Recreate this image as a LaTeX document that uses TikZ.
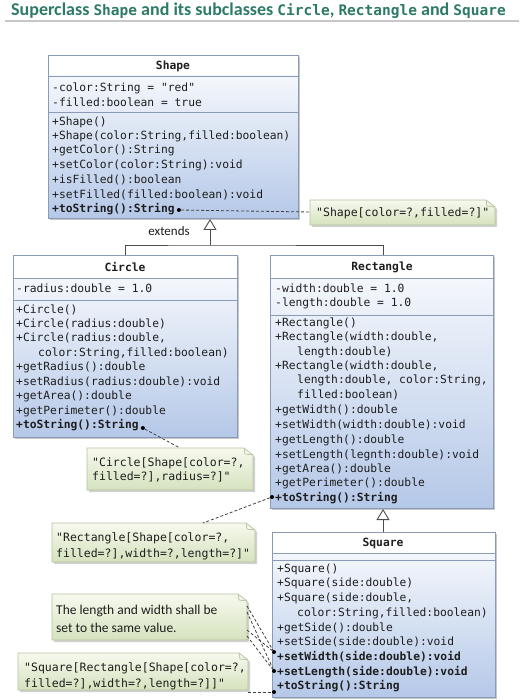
\documentclass[tikz,border=0pt]{standalone}
\usepackage{fontspec}
\setmainfont{Carlito}
\newfontfamily\monof{DejaVu Sans Mono}
\usetikzlibrary{arrows.meta}
\definecolor{titlec}{HTML}{2C7A67}
\definecolor{boxline}{HTML}{8A9BB8}
\definecolor{boxbot}{HTML}{B5C8E8}
\definecolor{boxtop}{HTML}{F4F7FC}
\definecolor{notetop}{HTML}{F7F9EE}
\definecolor{notebot}{HTML}{D5E2BE}
\definecolor{noteline}{HTML}{B3C39C}
\definecolor{txt}{HTML}{1E1E1E}
\tikzset{
 mem/.style={anchor=west, inner sep=0pt, text=txt, font=\monof\fontsize{11.3}{13}\selectfont},
 bmem/.style={mem, font=\monof\bfseries\fontsize{11.3}{13}\selectfont},
 cname/.style={inner sep=0pt, text=txt, font=\monof\bfseries\fontsize{11.3}{13}\selectfont},
 ntext/.style={anchor=west, inner sep=0pt, text=txt, font=\monof\fontsize{11.5}{13}\selectfont},
 stext/.style={anchor=west, inner sep=0pt, text=txt, font=\fontsize{13.5}{15}\selectfont},
 conn/.style={black!75, line width=0.8pt, dash pattern=on 3pt off 2pt},
 dotc/.style={circle, fill=black, inner sep=0pt, minimum size=4pt},
 inh/.style={draw=black!70, line width=0.9pt},
 inharrow/.style={inh, -{Triangle[open, width=13pt, length=11pt]}},
}
\newcommand\tmono[1]{{\monof\fontsize{14.5}{20}\selectfont #1}}
\newcommand\umlbox[6]{%
 \fill[black!22] (#1+2,#2+2) rectangle (#3+2,#4+2);
 \fill[white] (#1,#2) rectangle (#3,#5);
 \shade[top color=boxtop, bottom color=boxbot] (#1,#5) rectangle (#3,#4);
 \draw[boxline, line width=0.8pt] (#1,#2) rectangle (#3,#4);
 \draw[boxline, line width=0.8pt] (#1,#5) -- (#3,#5) (#1,#6) -- (#3,#6);
}
\newcommand\notebox[4]{%
 \fill[black!18] (#1+2,#2+2) -- (#3+2-9,#2+2) -- (#3+2,#2+2+7) -- (#3+2,#4+2) -- (#1+2,#4+2) -- cycle;
 \shade[top color=notetop, bottom color=notebot, draw=noteline, line width=0.7pt] (#1,#2) -- (#3-9,#2) -- (#3,#2+7) -- (#3,#4) -- (#1,#4) -- cycle;
 \draw[noteline, line width=0.7pt] (#3-9,#2) -- (#3-8,#2+6) -- (#3,#2+7);
}
\begin{document}
\begin{tikzpicture}[x=1pt,y=-1pt]
\useasboundingbox (0,0) rectangle (523,700);
% title
\node[anchor=west, inner sep=0pt, text=titlec, font=\bfseries\fontsize{18}{20}\selectfont] (title) at (11,11)
 {Superclass \tmono{Shape} and its subclasses \tmono{Circle}, \tmono{Rectangle} and \tmono{Square}};
\draw[black!22, line width=1.5pt] (5,21) -- (519,21);

% ---------- Shape ----------
\umlbox{48}{55}{298}{218}{76}{112}
\node[cname] (shapeN) at (173,66) {Shape};
\node[mem] (sa1) at (52,88) {-color:String = "red"};
\node[mem] (sa2) at (52,102) {-filled:boolean = true};
\node[mem] (sm1) at (52,122) {+Shape()};
\node[mem] (sm2) at (52,136) {+Shape(color:String,filled:boolean)};
\node[mem] (sm3) at (52,150) {+getColor():String};
\node[mem] (sm4) at (52,165) {+setColor(color:String):void};
\node[mem] (sm5) at (52,180) {+isFilled():boolean};
\node[mem] (sm6) at (52,195) {+setFilled(filled:boolean):void};
\node[bmem] (sm7) at (52,209) {+toString():String};
\node[dotc] (sdot) at ([xshift=4pt,yshift=-1pt]sm7.east) {};
\coordinate (shapeBot) at (210,219);

% ---------- Circle ----------
\umlbox{13}{255}{237}{437}{278}{300}
\node[cname] (circN) at (125,267) {Circle};
\node[mem] (ca1) at (16,288) {-radius:double = 1.0};
\node[mem] (cm1) at (16,310) {+Circle()};
\node[mem] (cm2) at (16,324) {+Circle(radius:double)};
\node[mem] (cm3) at (16,338) {+Circle(radius:double,};
\node[mem] (cm4) at (38,353) {color:String,filled:boolean)};
\node[mem] (cm5) at (16,367) {+getRadius():double};
\node[mem] (cm6) at (16,382) {+setRadius(radius:double):void};
\node[mem] (cm7) at (16,396) {+getArea():double};
\node[mem] (cm8) at (16,411) {+getPerimeter():double};
\node[bmem] (cm9) at (16,425) {+toString():String};
\node[dotc] (cdot) at ([xshift=4pt,yshift=-3pt]cm9.east) {};
\coordinate (circTop) at (125,255);

% ---------- Rectangle ----------
\umlbox{270}{255}{493}{508}{278}{315}
\node[cname] (rectN) at (382,267) {Rectangle};
\node[mem] (ra1) at (275,288) {-width:double = 1.0};
\node[mem] (ra2) at (275,303) {-length:double = 1.0};
\node[mem] (rm1) at (275,323) {+Rectangle()};
\node[mem] (rm2) at (275,337) {+Rectangle(width:double,};
\node[mem] (rm3) at (297,352) {length:double)};
\node[mem] (rm4) at (275,366) {+Rectangle(width:double,};
\node[mem] (rm5) at (297,380) {length:double, color:String,};
\node[mem] (rm6) at (297,395) {filled:boolean)};
\node[mem] (rm7) at (275,410) {+getWidth():double};
\node[mem] (rm8) at (275,425) {+setWidth(width:double):void};
\node[mem] (rm9) at (275,440) {+getLength():double};
\node[mem] (rm10) at (275,455) {+setLength(legnth:double):void};
\node[mem] (rm11) at (275,469) {+getArea():double};
\node[mem] (rm12) at (275,483) {+getPerimeter():double};
\node[bmem] (rm13) at (275,498) {+toString():String};
\node[dotc] (rdot) at (272,497) {};
\coordinate (rectTop) at (383,255);
\coordinate (rectBot) at (383,509);

% ---------- Square ----------
\umlbox{272}{532}{495}{697}{553}{560}
\node[cname] (sqN) at (383,543) {Square};
\node[mem] (qm1) at (277,569) {+Square()};
\node[mem] (qm2) at (277,583) {+Square(side:double)};
\node[mem] (qm3) at (277,598) {+Square(side:double,};
\node[mem] (qm4) at (297,613) {color:String,filled:boolean)};
\node[mem] (qm5) at (277,628) {+getSide():double};
\node[mem] (qm6) at (277,642) {+setSide(side:double):void};
\node[bmem] (qm7) at (277,657) {+setWidth(side:double):void};
\node[bmem] (qm8) at (277,672) {+setLength(side:double):void};
\node[bmem] (qm9) at (277,686) {+toString():String};
\node[dotc] (qdot1) at (274,652) {};
\node[dotc] (qdot2) at (274,671) {};
\node[dotc] (qdot3) at (274,692) {};
\coordinate (sqTop) at (383,532);

% ---------- inheritance ----------
\coordinate (inh1) at (210,245);
\draw[inh] (circTop) |- (inh1) -| (rectTop);
\draw[inharrow] (inh1) -- (shapeBot);
\draw[inharrow] (sqTop) -- (rectBot);
\node[inner sep=0pt, text=txt, font=\fontsize{13}{15}\selectfont] (ext) at (169,231) {extends};

% ---------- notes ----------
\notebox{310}{200}{495}{225}
\node[ntext] (n1) at (316,213) {"Shape[color=?,filled=?]"};
\notebox{87}{448}{253}{490}
\node[ntext] (n2a) at (92,463) {"Circle[Shape[color=?,};
\node[ntext] (n2b) at (92,477) {filled=?],radius=?]"};
\notebox{52}{523}{255}{562}
\node[ntext] (n3a) at (56,538) {"Rectangle[Shape[color=?,};
\node[ntext] (n3b) at (56,554) {filled=?],width=?,length=?]"};
\notebox{52}{594}{247}{640}
\node[stext] (n4a) at (56,611) {The length and width shall be};
\node[stext] (n4b) at (56,628) {set to the same value.};
\notebox{18}{653}{248}{690}
\node[ntext] (n5a) at (24,668) {"Square[Rectangle[Shape[color=?,};
\node[ntext] (n5b) at (24,684) {filled=?],width=?,length=?]]"};

\coordinate (n1w) at (310,212);
\coordinate (n2t) at (180,448);
\coordinate (n3t) at (203,523);
\coordinate (n4r1) at (247,606);
\coordinate (n4r2) at (247,612);
\coordinate (n4r3) at (247,630);
\coordinate (n4r4) at (247,636);
\coordinate (n5r) at (248,692);

% ---------- dashed connectors ----------
\draw[conn] (sdot) -- (n1w);
\draw[conn] (cdot) -- (n2t);
\draw[conn] (rdot) -- (n3t);
\draw[conn] (n4r1) -- (qdot1);
\draw[conn] (n4r2) -- (qdot2);
\draw[conn] (n4r3) -- (qdot1);
\draw[conn] (n4r4) -- (qdot2);
\draw[conn] (n5r) -- (qdot3);
\end{tikzpicture}
\end{document}
